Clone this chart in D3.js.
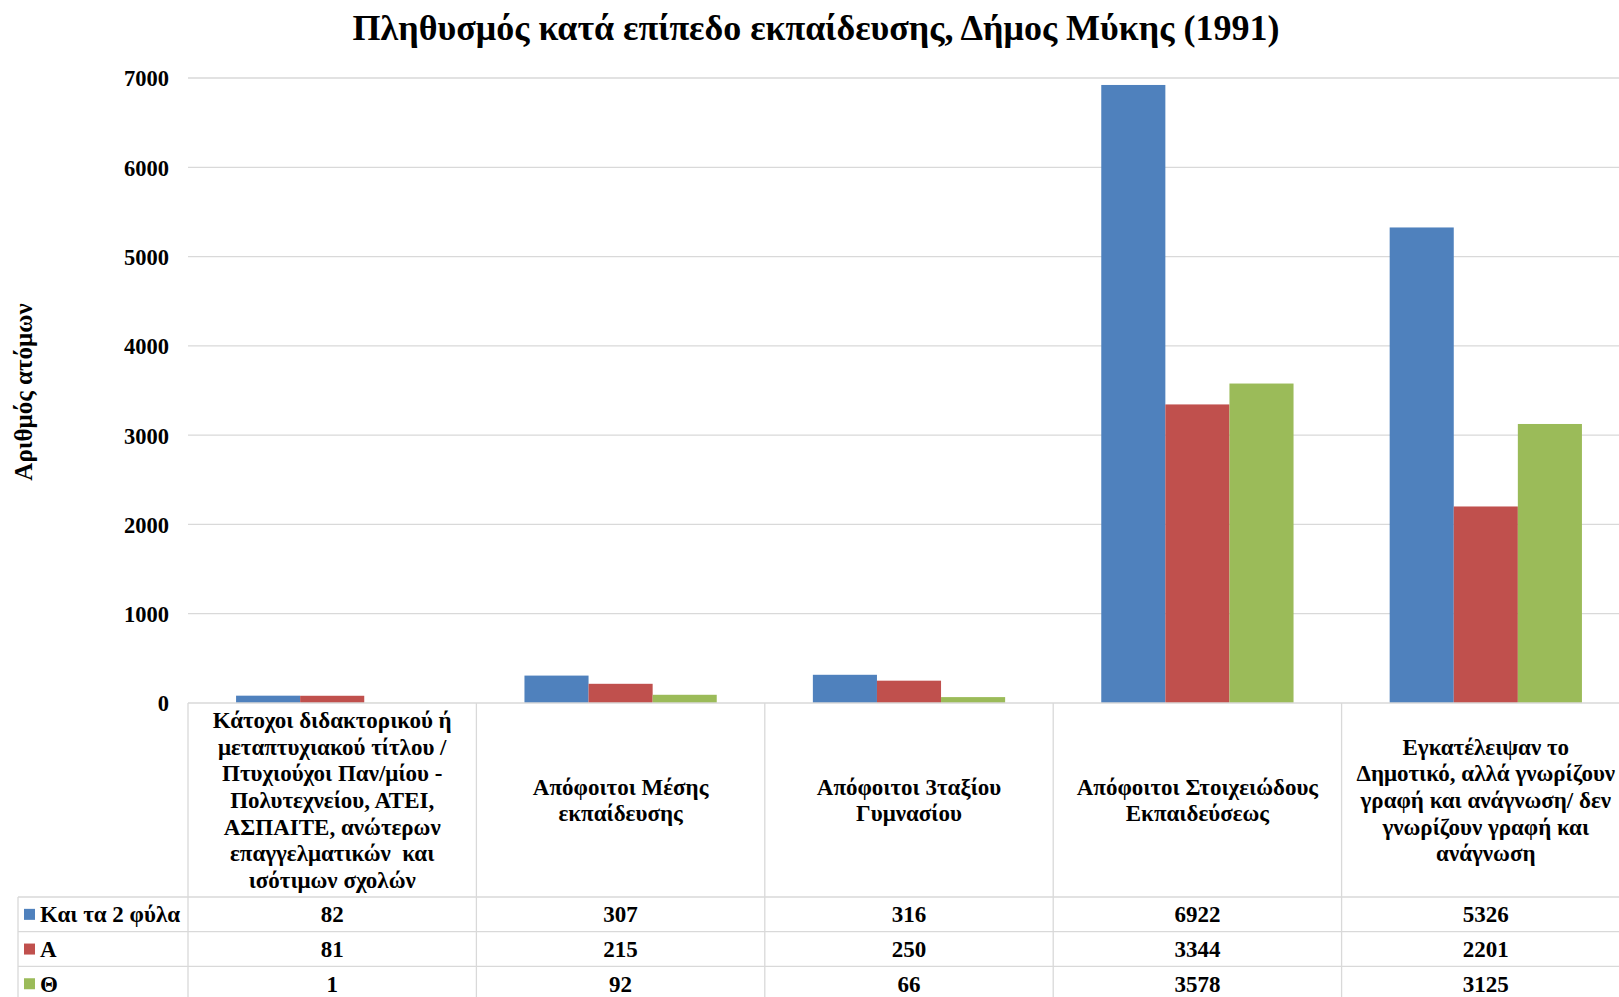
<!DOCTYPE html>
<html>
<head>
<meta charset="utf-8">
<script src="https://cdn.jsdelivr.net/npm/d3@7"></script>
<style>
  html, body { margin: 0; padding: 0; background: #fff; overflow: hidden; }
  text { font-family: "Liberation Serif", "Times New Roman", serif; font-weight: bold; fill: #000; }
</style>
</head>
<body>
<svg id="chart" width="1619" height="997"></svg>
<script>
const title = "Πληθυσμός κατά επίπεδο εκπαίδευσης, Δήμος Μύκης (1991)";
const yLabel = "Αριθμός ατόμων";
const categories = [
  ["Κάτοχοι διδακτορικού ή", "μεταπτυχιακού τίτλου /", "Πτυχιούχοι Παν/μίου -", "Πολυτεχνείου, ΑΤΕΙ,", "ΑΣΠΑΙΤΕ, ανώτερων", "επαγγελματικών  και", "ισότιμων σχολών"],
  ["Απόφοιτοι Μέσης", "εκπαίδευσης"],
  ["Απόφοιτοι 3ταξίου", "Γυμνασίου"],
  ["Απόφοιτοι Στοιχειώδους", "Εκπαιδεύσεως"],
  ["Εγκατέλειψαν το", "Δημοτικό, αλλά γνωρίζουν", "γραφή και ανάγνωση/ δεν", "γνωρίζουν γραφή και", "ανάγνωση"]
];
const seriesNames = ["Και τα 2 φύλα", "Α", "Θ"];
const seriesColors = ["#4f81bd", "#c0504d", "#9bbb59"];
const both = [82, 307, 316, 6922, 5326];
const male = [81, 215, 250, 3344, 2201];
const female = [1, 92, 66, 3578, 3125];
const seriesValues = [both, male, female];
const yTicks = [0, 1000, 2000, 3000, 4000, 5000, 6000, 7000];

const svg = d3.select("#chart");
const catIdx = categories.map((c, i) => i);
const x0 = d3.scaleBand().domain(catIdx).range([188, 1630]).padding(0);
const x1 = d3.scaleBand().domain([0, 1, 2]).range([0, x0.bandwidth()]).paddingInner(0).paddingOuter(0.75);
const y = d3.scaleLinear().domain([0, 7000]).range([703, 78]);

const grid = "#d9d9d9";
const fs = "23px";

// gridlines
svg.append("g").selectAll("line").data(yTicks.slice(1)).join("line")
  .attr("x1", 188).attr("x2", 1619)
  .attr("y1", d => y(d)).attr("y2", d => y(d))
  .attr("stroke", grid).attr("stroke-width", 1.3);

// y axis tick labels
const yAxis = d3.axisLeft(y).tickValues(yTicks).tickSize(0).tickPadding(0).tickFormat(d3.format("d"));
const ya = svg.append("g").attr("transform", "translate(169,0)").call(yAxis);
ya.select(".domain").remove();
ya.selectAll("text").style("font-size", "22.5px").style("font-family", "Liberation Serif").style("font-weight", "bold").attr("dy", "0.35em");

// bars
seriesValues.forEach((vals, s) => {
  svg.append("g").selectAll("rect").data(vals).join("rect")
    .attr("x", (d, i) => x0(i) + x1(s))
    .attr("width", x1.bandwidth())
    .attr("y", d => y(d))
    .attr("height", d => y(0) - y(d))
    .attr("fill", seriesColors[s]);
});

// table
const rowH = 34.7;
const headerBottom = 897;
const tableLines = svg.append("g").attr("stroke", grid).attr("stroke-width", 1.3);
tableLines.append("line").attr("x1", 188).attr("x2", 1619).attr("y1", y(0)).attr("y2", y(0));
for (let r = 0; r < 4; r++) {
  const yy = headerBottom + r * rowH;
  tableLines.append("line").attr("x1", 18).attr("x2", 1619).attr("y1", yy).attr("y2", yy);
}
catIdx.forEach(i => {
  tableLines.append("line").attr("x1", x0(i)).attr("x2", x0(i)).attr("y1", y(0)).attr("y2", 997);
});
tableLines.append("line").attr("x1", 18).attr("x2", 18).attr("y1", headerBottom).attr("y2", 997);

// category labels
const lh = 26.6;
const catMid = (y(0) + headerBottom) / 2;
categories.forEach((lines, i) => {
  const t = svg.append("text").attr("text-anchor", "middle").style("font-size", fs).style("white-space", "pre");
  const startY = catMid - (lines.length - 1) * lh / 2;
  lines.forEach((ln, k) => {
    t.append("tspan").attr("x", x0(i) + x0.bandwidth() / 2).attr("y", startY + k * lh).attr("dy", "0.35em").text(ln);
  });
});

// data rows
seriesValues.forEach((vals, s) => {
  const cy = headerBottom + s * rowH + rowH / 2;
  svg.append("rect").attr("x", 24).attr("y", cy - 5.5).attr("width", 11).attr("height", 11).attr("fill", seriesColors[s]);
  svg.append("text").attr("x", 40).attr("y", cy).attr("dy", "0.35em").style("font-size", fs).text(seriesNames[s]);
  svg.append("g").selectAll("text").data(vals).join("text")
    .attr("x", (d, i) => x0(i) + x0.bandwidth() / 2)
    .attr("y", cy).attr("dy", "0.35em")
    .attr("text-anchor", "middle").style("font-size", fs)
    .text(d => d);
});

// title
svg.append("text").attr("x", 816).attr("y", 27).attr("dy", "0.35em")
  .attr("text-anchor", "middle").style("font-size", "36px").text(title);

// y label
svg.append("text").attr("transform", "translate(23,392) rotate(-90)")
  .attr("text-anchor", "middle").attr("dy", "0.35em").style("font-size", "25px").text(yLabel);
</script>
</body>
</html>
